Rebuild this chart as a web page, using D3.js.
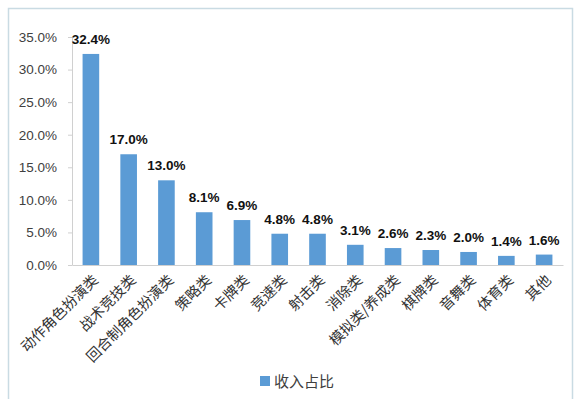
<!DOCTYPE html>
<html>
<head>
<meta charset="utf-8">
<script src="https://cdn.jsdelivr.net/npm/d3@7"></script>
<style>
  body { margin: 0; background: #fff; }
  text { font-family: "Liberation Sans", "Noto Sans CJK SC", sans-serif; }
</style>
</head>
<body>
<svg width="576" height="399"></svg>
<script>
var categories = ["动作角色扮演类", "战术竞技类", "回合制角色扮演类", "策略类", "卡牌类", "竞速类",
    "射击类", "消除类", "模拟类/养成类", "棋牌类", "音舞类", "体育类", "其他"];
var values = [32.4, 17.0, 13.0, 8.1, 6.9, 4.8, 4.8, 3.1, 2.6, 2.3, 2.0, 1.4, 1.6];
var yTicks = [0, 5, 10, 15, 20, 25, 30, 35];
var seriesName = "收入占比";

var svg = d3.select("svg"),
    width = +svg.attr("width"),
    height = +svg.attr("height");

// chart frame
svg.append("path")
    .attr("d", "M8.5,399 V8.5 H572.5 V399")
    .attr("fill", "none")
    .attr("stroke", "#c9dbe3")
    .attr("stroke-width", 1.5);

var x = d3.scaleBand()
    .domain(categories)
    .range([72, 563])
    .paddingInner(0.56)
    .paddingOuter(0.28);

var y = d3.scaleLinear()
    .domain([0, 35])
    .range([265, 37]);

// y axis
var yAxis = svg.append("g")
    .attr("transform", "translate(72,0)")
    .call(d3.axisLeft(y).tickValues(yTicks).tickSize(4).tickSizeOuter(0)
        .tickFormat(function(d) { return d.toFixed(1) + "%"; }));
yAxis.select(".domain").attr("stroke", "#d0d0d0");
yAxis.selectAll(".tick line").attr("stroke", "#d0d0d0");
yAxis.selectAll("text")
    .attr("x", -15)
    .attr("fill", "#404040")
    .style("font-size", "13.5px");

// bars
svg.append("g")
    .selectAll("rect")
    .data(values)
    .enter().append("rect")
    .attr("x", function(d, i) { return x(categories[i]); })
    .attr("y", function(d) { return y(d); })
    .attr("width", x.bandwidth())
    .attr("height", function(d) { return y(0) - y(d); })
    .attr("fill", "#5b9bd5");

// x axis
var xAxis = svg.append("g")
    .attr("transform", "translate(0,265)")
    .call(d3.axisBottom(x).tickSize(0).tickSizeOuter(0));
xAxis.select(".domain").attr("stroke", "#d0d0d0");
xAxis.selectAll("text")
    .attr("text-anchor", "end")
    .attr("dy", null)
    .attr("y", 0)
    .attr("transform", "translate(8,16) rotate(-45)")
    .attr("fill", "#333")
    .style("font-family", "'Noto Sans CJK SC', sans-serif")
    .style("font-size", "14.5px");

// value labels
svg.append("g")
    .selectAll("text")
    .data(values)
    .enter().append("text")
    .attr("x", function(d, i) { return x(categories[i]) + x.bandwidth() / 2; })
    .attr("y", function(d) { return y(d) - 10; })
    .attr("text-anchor", "middle")
    .attr("font-weight", "bold")
    .attr("font-size", "13.5px")
    .attr("fill", "#111")
    .text(function(d) { return d.toFixed(1) + "%"; });

// legend
var legend = svg.append("g").attr("transform", "translate(260,376)");
legend.append("rect")
    .attr("width", 10).attr("height", 10)
    .attr("fill", "#5b9bd5");
legend.append("text")
    .attr("x", 14).attr("y", 11)
    .attr("fill", "#404040")
    .style("font-family", "'Noto Sans CJK SC', sans-serif")
    .style("font-size", "15px")
    .text(seriesName);
</script>
</body>
</html>
